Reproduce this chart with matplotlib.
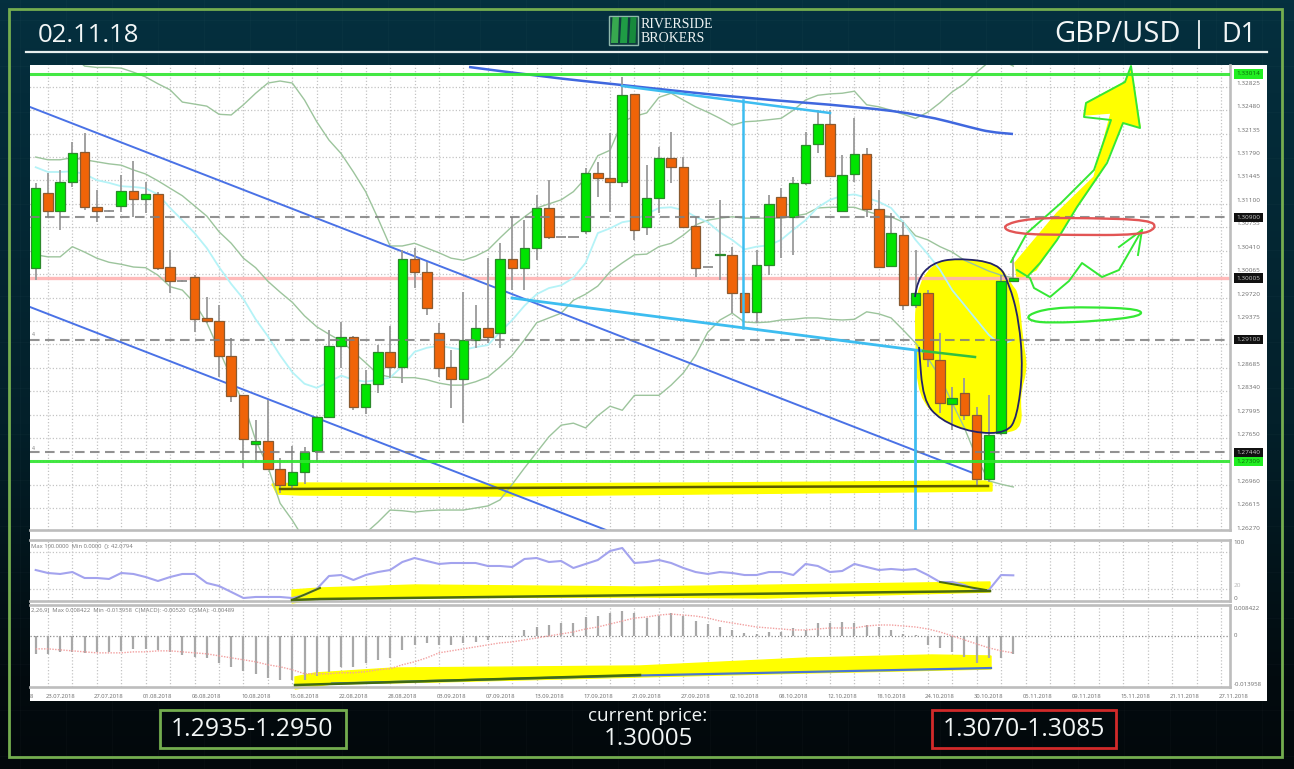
import numpy as np
import matplotlib
matplotlib.use("Agg")
import matplotlib.pyplot as plt
from matplotlib.colors import LinearSegmentedColormap
from matplotlib.patches import Polygon, PathPatch, Rectangle
from matplotlib.path import Path
from matplotlib.transforms import blended_transform_factory

plt.rcParams["font.family"] = ["Open Sans", "DejaVu Sans"]

# daily candles
opens = [1.30095,1.31200,1.30935,1.31362,1.31804,1.30994,1.30935,1.31009,1.31230,1.31112,1.31185,1.30110,1.29904,1.29963,1.29359,1.29315,1.28799,1.28225,1.27503,1.27547,1.27135,1.26899,1.27091,1.27400,1.27901,1.28946,1.29079,1.28048,1.28387,1.28858,1.28637,1.30228,1.30036,1.29138,1.28637,1.28460,1.29035,1.29211,1.29138,1.30228,1.30095,1.30390,1.30979,1.30552,1.30552,1.30640,1.31495,1.31421,1.31362,1.32658,1.30699,1.31126,1.31716,1.31583,1.30714,1.30110,1.30287,1.30287,1.29727,1.29447,1.30139,1.31141,1.30847,1.31347,1.31922,1.32216,1.30935,1.31480,1.31775,1.30964,1.30125,1.30581,1.29550,1.29727,1.28740,1.28092,1.28254,1.27930,1.26987,1.27665,1.29904]
highs = [1.31347,1.31495,1.31539,1.31951,1.32084,1.31244,1.30950,1.31465,1.31671,1.31362,1.31215,1.30361,1.29919,1.29992,1.29668,1.29550,1.29064,1.28225,1.27856,1.28151,1.27297,1.27473,1.27459,1.27916,1.29182,1.29300,1.29094,1.28593,1.28961,1.29241,1.30361,1.30390,1.30184,1.29285,1.28888,1.29742,1.29550,1.30243,1.30464,1.30847,1.30802,1.31171,1.31392,1.30552,1.30552,1.31568,1.31657,1.32084,1.32909,1.32658,1.31613,1.31878,1.32099,1.31730,1.30847,1.30110,1.31097,1.30405,1.29727,1.30361,1.31171,1.31274,1.31436,1.32099,1.32423,1.32423,1.31760,1.32305,1.31863,1.31244,1.30905,1.30773,1.30361,1.29771,1.29138,1.28342,1.28475,1.28048,1.28225,1.29992,1.30257]
lows = [1.29919,1.30847,1.30655,1.31289,1.30950,1.30773,1.30920,1.30920,1.30847,1.30905,1.30066,1.29727,1.29889,1.29152,1.29285,1.28490,1.28122,1.27149,1.27238,1.27120,1.26781,1.26825,1.26914,1.27238,1.27886,1.28622,1.28004,1.27945,1.28254,1.28475,1.28401,1.29801,1.29403,1.28490,1.28033,1.27812,1.28917,1.28991,1.28917,1.29771,1.29771,1.30213,1.30522,1.30552,1.30552,1.30596,1.31141,1.30920,1.31289,1.30508,1.30581,1.30905,1.31347,1.30699,1.29963,1.30110,1.29919,1.29432,1.29432,1.29285,1.29992,1.30243,1.30287,1.31318,1.31789,1.31451,1.30935,1.31362,1.30847,1.30095,1.30110,1.29477,1.29506,1.28637,1.27960,1.27709,1.27856,1.26899,1.26943,1.27635,1.29889]
closes = [1.31274,1.30935,1.31362,1.31789,1.30994,1.30935,1.30935,1.31230,1.31112,1.31185,1.30095,1.29904,1.29904,1.29344,1.29315,1.28799,1.28210,1.27576,1.27547,1.27135,1.26899,1.27091,1.27385,1.27901,1.28946,1.29079,1.28048,1.28387,1.28858,1.28637,1.30228,1.30036,1.29506,1.28622,1.28460,1.29035,1.29211,1.29079,1.30228,1.30095,1.30390,1.30979,1.30552,1.30552,1.30552,1.31495,1.31421,1.31362,1.32644,1.30655,1.31126,1.31716,1.31583,1.30699,1.30095,1.30110,1.30302,1.29727,1.29447,1.30139,1.31038,1.30847,1.31347,1.31907,1.32216,1.31451,1.31465,1.31775,1.30964,1.30110,1.30611,1.29550,1.29727,1.28755,1.28107,1.28181,1.27930,1.26987,1.27635,1.29904,1.29948]

# bollinger bands + the cyan average
bb_upper = [1.3323,1.3323,1.3323,1.3323,1.3307,1.3305,1.3305,1.3304,1.3298,1.3291,1.3281,1.3272,1.3254,1.3251,1.3248,1.3236,1.3235,1.3250,1.3267,1.3282,1.3285,1.3282,1.3257,1.3225,1.3198,1.3178,1.3151,1.3122,1.3083,1.3042,1.3042,1.3046,1.3039,1.3032,1.3024,1.3021,1.3027,1.3036,1.3054,1.3071,1.3085,1.3098,1.3104,1.3110,1.3122,1.3142,1.3175,1.3183,1.3225,1.3233,1.3238,1.3261,1.3267,1.3257,1.3247,1.3239,1.3230,1.3220,1.3225,1.3226,1.3228,1.3230,1.3242,1.3257,1.3264,1.3266,1.3267,1.3270,1.3250,1.3247,1.3242,1.3236,1.3230,1.3239,1.3253,1.3269,1.3281,1.3298,1.3313,1.3316,1.3307]
bb_mid = [1.3173,1.3169,1.3169,1.3172,1.3169,1.3166,1.3163,1.3161,1.3154,1.3148,1.3138,1.3127,1.3116,1.3101,1.3086,1.3063,1.3046,1.3024,1.3010,1.2990,1.2974,1.2959,1.2939,1.2923,1.2912,1.2902,1.2886,1.2870,1.2853,1.2849,1.2848,1.2848,1.2845,1.2840,1.2837,1.2837,1.2842,1.2849,1.2864,1.2881,1.2904,1.2929,1.2936,1.2943,1.2962,1.2971,1.2983,1.3004,1.3017,1.3029,1.3030,1.3041,1.3046,1.3058,1.3073,1.3080,1.3083,1.3085,1.3083,1.3083,1.3083,1.3083,1.3086,1.3089,1.3098,1.3099,1.3099,1.3099,1.3093,1.3088,1.3085,1.3077,1.3057,1.3051,1.3041,1.3033,1.3021,1.3013,1.3005,1.2999,1.2995]
bb_lower = [1.3029,1.3026,1.3026,1.3041,1.3033,1.3024,1.3018,1.3015,1.3011,1.3010,1.2999,1.2982,1.2977,1.2958,1.2929,1.2889,1.2848,1.2811,1.2756,1.2717,1.2663,1.2638,1.2609,1.2594,1.2587,1.2579,1.2587,1.2619,1.2635,1.2653,1.2652,1.2650,1.2652,1.2653,1.2653,1.2653,1.2656,1.2659,1.2668,1.2691,1.2715,1.2738,1.2761,1.2778,1.2781,1.2774,1.2792,1.2806,1.2800,1.2822,1.2822,1.2822,1.2837,1.2855,1.2881,1.2915,1.2933,1.2943,1.2930,1.2929,1.2930,1.2933,1.2934,1.2936,1.2936,1.2934,1.2933,1.2934,1.2945,1.2942,1.2936,1.2918,1.2899,1.2877,1.2849,1.2811,1.2774,1.2730,1.2696,1.2691,1.2687]
ma_cyan = [1.3158,1.3151,1.3151,1.3152,1.3148,1.3139,1.3135,1.3130,1.3129,1.3127,1.3118,1.3098,1.3080,1.3061,1.3039,1.3011,1.2986,1.2964,1.2934,1.2909,1.2881,1.2856,1.2839,1.2833,1.2842,1.2851,1.2845,1.2842,1.2845,1.2848,1.2865,1.2886,1.2892,1.2895,1.2892,1.2889,1.2893,1.2896,1.2915,1.2933,1.2954,1.2971,1.2980,1.2984,1.2995,1.3017,1.3061,1.3068,1.3077,1.3080,1.3089,1.3098,1.3099,1.3095,1.3085,1.3077,1.3062,1.3051,1.3037,1.3041,1.3043,1.3051,1.3066,1.3080,1.3099,1.3110,1.3116,1.3118,1.3113,1.3107,1.3098,1.3077,1.3051,1.3030,1.3007,1.2977,1.2955,1.2933,1.2911,1.2896,1.2904]

# the series above were read against the label centres, which sit a bit above their gridlines
LABEL_OFFSET = 0.00059
opens, highs, lows, closes = [np.array(a) + LABEL_OFFSET for a in (opens, highs, lows, closes)]
bb_upper, bb_mid, bb_lower, ma_cyan = [np.array(a) + LABEL_OFFSET for a in (bb_upper, bb_mid, bb_lower, ma_cyan)]

rsi = [50.8,45.9,44.3,47.5,37.7,37.7,36.1,45.9,44.3,39.3,32.8,39.3,44.3,44.3,29.5,24.6,14.8,4.9,6.6,6.6,6.6,4.9,9.8,19.7,41.0,42.6,34.4,42.6,47.5,50.8,63.9,70.5,65.6,60.7,62.3,62.3,62.3,57.4,57.4,55.7,68.9,70.5,63.9,65.6,54.1,60.7,67.2,82.0,86.9,62.3,63.9,67.2,62.3,54.1,47.5,44.3,47.5,45.9,42.6,42.6,47.5,47.5,42.6,60.7,57.4,47.5,49.2,60.7,55.7,50.8,52.5,50.8,52.5,42.6,31.1,31.1,26.2,18.0,18.0,42.6,42.08]
macd_hist = [-.0054,-.0054,-.0048,-.0048,-.0051,-.0048,-.0048,-.0045,-.0039,-.0039,-.0042,-.0048,-.0057,-.0063,-.0066,-.0081,-.0093,-.0105,-.0114,-.0126,-.0132,-.0132,-.0132,-.0120,-.0108,-.0093,-.0093,-.0081,-.0072,-.0066,-.0042,-.0027,-.0021,-.0027,-.0027,-.0021,-.0018,-.0012,-.0003,-.0003,.0018,.0027,.0033,.0039,.0039,.0057,.0060,.0069,.0075,.0069,.0054,.0060,.0069,.0060,.0045,.0036,.0027,.0018,.0009,.0006,.0012,.0012,.0024,.0018,.0039,.0039,.0042,.0039,.0033,.0027,.0018,.0006,.0003,-.0027,-.0036,-.0048,-.0063,-.0081,-.0066,-.0066,-.0054]
macd_signal = [-.0039,-.0039,-.0042,-.0045,-.0048,-.0051,-.0051,-.0051,-.0048,-.0048,-.0045,-.0045,-.0048,-.0051,-.0054,-.0060,-.0066,-.0072,-.0078,-.0087,-.0093,-.0102,-.0114,-.0114,-.0114,-.0111,-.0111,-.0108,-.0102,-.0099,-.0087,-.0078,-.0066,-.0051,-.0045,-.0039,-.0033,-.0027,-.0021,-.0018,-.0012,-.0006,0,.0006,.0012,.0021,.0027,.0036,.0045,.0054,.0057,.0063,.0066,.0063,.0060,.0054,.0045,.0039,.0033,.0027,.0024,.0021,.0018,.0018,.0021,.0024,.0024,.0024,.0030,.0033,.0033,.0030,.0027,.0021,.0012,0,-.0012,-.0024,-.0036,-.0045,-.0051]

price_ticks = [1.32825,1.32480,1.32135,1.31790,1.31445,1.31100,1.30755,1.30410,1.30065,1.29720,1.29375,1.29030,1.28685,1.28340,1.27995,1.27650,1.27305,1.26960,1.26615,1.26270]
green_levels = [1.33014, 1.27309]
dashed_levels = [1.30900, 1.29100, 1.27440]
red_level = 1.30005
date_labels = ["23.07.2018","27.07.2018","01.08.2018","06.08.2018","10.08.2018","16.08.2018","22.08.2018","28.08.2018","03.09.2018","07.09.2018","13.09.2018","17.09.2018","21.09.2018","27.09.2018","02.10.2018","08.10.2018","12.10.2018","18.10.2018","24.10.2018","30.10.2018","05.11.2018","09.11.2018","15.11.2018","21.11.2018","27.11.2018"]

W, H = 1294, 769
bars = np.arange(len(opens))
odd_bars = np.arange(1, 98, 2)


def smooth(pts, closed=False):
    pts = np.array(pts, dtype=float)
    if closed:
        pts = np.vstack([pts, pts[0], pts[1]])
    mids = (pts[:-1] + pts[1:]) / 2
    start = mids[0] if closed else pts[0]
    verts, codes = [start], [Path.MOVETO]
    for p, m in zip(pts[1:-1], mids[1:]):
        verts += [p, m]
        codes += [Path.CURVE3, Path.CURVE3]
    if not closed:
        verts.append(pts[-1])
        codes.append(Path.LINETO)
    return Path(verts, codes)


def box(top, bottom):
    return [30 / W, 1 - bottom / H, 1199.6 / W, (bottom - top) / H]


fig = plt.figure(figsize=(W / 100, H / 100), dpi=100)

# page in pixel coordinates: background, frame, header, footer
px = fig.add_axes([0, 0, 1, 1], zorder=0)
px.set_xlim(0, W)
px.set_ylim(H, 0)
px.axis("off")

bg = LinearSegmentedColormap.from_list("bg", [(0, "#04303f"), (0.12, "#042c3a"), (0.55, "#03202a"), (0.88, "#020b0f"), (1, "#03080b")])
px.imshow(np.linspace(0, 1, 256).reshape(-1, 1), cmap=bg, aspect="auto", extent=(0, W, H, 0), zorder=0)
for v in np.arange(20, W, 46):
    px.plot([v, v], [0, H], color="#ffffff", alpha=0.018, lw=0.8, zorder=0.5)
for v in np.arange(20, H, 46):
    px.plot([0, W], [v, v], color="#ffffff", alpha=0.018, lw=0.8, zorder=0.5)
px.set_xlim(0, W)
px.set_ylim(H, 0)

px.add_patch(Rectangle((8.5, 8.5), 1273.5, 748.5, fill=False, ec="#74ad4f", lw=2, zorder=1))
px.plot([26, 1267], [52, 52], color="#e8efef", lw=1.6, zorder=1)
px.add_patch(Rectangle((30, 65), 1237, 635.5, fc="white", ec="none", zorder=1))

title = dict(color="#f2f6f6", va="center", zorder=2)
px.text(38, 35, "02.11.18", ha="left", fontsize=18.5, **title)
px.text(1181, 35, "GBP/USD", ha="right", fontsize=21, **title)
px.plot([1199, 1199], [21, 48], color="#f2f6f6", lw=1.3, zorder=2)
px.text(1256, 35, "D1", ha="right", fontsize=19.5, **title)

# logo
px.add_patch(Rectangle((609, 15.5), 29, 29.5, fc="#0f3b3f", ec="#8fb8ac", lw=1, zorder=2))
for x0, w0, c in [(611, 8, "#37a84f"), (620, 8, "#1f9c45"), (629, 7.5, "#178a3c")]:
    px.add_patch(Polygon([(x0 + 1.5, 17), (x0 + w0, 17), (x0 + w0 - 1, 43), (x0, 43)], fc=c, ec="none", zorder=2.1))
px.text(641, 24, "RIVERSIDE", family="Liberation Serif", fontsize=10, color="#f0f4f4", va="center", zorder=2)
px.text(641, 38, "BROKERS", family="Liberation Serif", fontsize=10, color="#f0f4f4", va="center", zorder=2)

# footer boxes
px.add_patch(Rectangle((159.5, 709.5), 186, 38.5, fill=False, ec="#74ad4f", lw=2, zorder=2))
px.add_patch(Rectangle((932, 709.5), 184, 38.5, fill=False, ec="#d22a2a", lw=2, zorder=2))
foot = dict(color="#f2f6f6", ha="center", va="center", zorder=3)
px.text(252.5, 729.5, "1.2935-1.2950", fontsize=17.8, **foot)
px.text(1024, 729.5, "1.3070-1.3085", fontsize=17.8, **foot)
px.text(647.5, 716, "current price:", fontsize=13.7, **foot)
px.text(648, 739, "1.30005", fontsize=17.4, **foot)

# main panel
ax = fig.add_axes(box(65, 530), zorder=2, facecolor="none")
macd_ax = fig.add_axes(box(605, 687), zorder=2, facecolor="none", sharex=ax)
rsi_ax = fig.add_axes(box(540, 601), zorder=2, facecolor="none", sharex=ax)
ax.set_xlim(-0.466, 97.7)
ax.set_ylim(1.26295, 1.33145)
rsi_ax.set_ylim(0, 100)
macd_ax.set_ylim(-0.0154, 0.00933)

for a in (ax, rsi_ax, macd_ax):
    a.tick_params(length=0, labelbottom=False, labelleft=False)
    a.set_yticks([])
    a.set_xticks([])
    for s in a.spines.values():
        s.set_color("#bdbdbd")
        s.set_linewidth(1.9)
    a.spines["left"].set_visible(False)
    a.vlines(odd_bars, 0, 1, transform=a.get_xaxis_transform(), color="#c4c4c4", lw=0.9, linestyles=(0, (1, 1.6)), zorder=1)
ax.spines["top"].set_visible(False)

ax.hlines(price_ticks, -1, 98, color="#c4c4c4", lw=0.9, linestyles=(0, (1, 1.6)), zorder=1)
for lv in dashed_levels:
    ax.axhline(lv, color="#7f7f7f", lw=1.5, ls=(0, (4.6, 2.6)), alpha=0.85, zorder=5)
for lv in green_levels:
    ax.axhline(lv, color="#2fe62f", lw=2.2, alpha=0.9, zorder=5)
ax.axhline(red_level, color="#ffb3b3", lw=2.4, alpha=0.9, zorder=2)

# yellow marker strokes go under the candles
yellow = [
    [(272, 484), (300, 483), (500, 484), (700, 483), (985, 481), (992, 483), (992, 491), (800, 493), (500, 496), (300, 495), (277, 494)],
    [(1017, 277), (1015, 263), (1057, 213), (1094, 177), (1111, 113), (1084, 115), (1086, 103), (1125, 82), (1131, 68), (1140, 127), (1123, 122), (1102, 170), (1073, 213), (1036, 270), (1019, 279)],
]
for pts in yellow:
    ax.add_patch(Polygon(pts, fc="#ffff00", ec="#ffff00", lw=1, transform=px.transData, clip_on=False, zorder=1.5))
oval = [(915, 292), (932, 263), (957, 258), (998, 262), (1012, 285), (1019, 293), (1023, 340), (1028, 368), (1020, 395), (1023, 427), (1006, 434), (973, 432), (940, 420), (918, 397), (915, 347)]
ax.add_patch(PathPatch(smooth(oval, closed=True), fc="#ffff00", ec="none", transform=px.transData, clip_on=False, zorder=1.5))

ax.plot(bars, bb_upper, color="#9cc49c", lw=1, zorder=2)
ax.plot(bars, bb_mid, color="#9cc49c", lw=1, zorder=2)
ax.plot(bars, bb_lower, color="#9cc49c", lw=1, zorder=2)
ax.plot(bars, ma_cyan, color="#b5f3f7", lw=1.3, zorder=2)

# trend lines drawn on the chart by hand
blue = "#4a72e6"
ax.plot([30, 973], [107, 473], color=blue, lw=1.4, transform=px.transData, zorder=2.5)
ax.plot([30, 606], [307, 530], color=blue, lw=1.4, transform=px.transData, zorder=2.5)
ax.add_patch(PathPatch(smooth([(469, 67), (545, 77), (622, 85), (640, 87), (744, 98), (861, 107), (923, 115), (973, 128), (990, 132), (1013, 134)]), fill=False, ec="#3f67de", lw=1.8, transform=px.transData, zorder=2.6))

# candles
bull = closes > opens
doji = np.isclose(opens, closes, atol=1e-4)
ax.vlines(bars, lows, highs, color="#9a9a9a", lw=1.3, zorder=3)
ax.hlines(opens[doji], bars[doji] - 0.42, bars[doji] + 0.42, color="#8e8e8e", lw=1.3, zorder=3)
b = bars[~doji]
body_low = np.minimum(opens, closes)[~doji]
body_h = np.abs(closes - opens)[~doji]
colors = np.where(bull[~doji], "#00e400", "#f06408")
edges = np.where(bull[~doji], "#2b8a2b", "#8a5a30")
ax.bar(b, body_h, 0.78, bottom=body_low, color=colors, edgecolor=edges, linewidth=0.9, zorder=3.2)

# cyan and green strokes above the candles
cyan = "#3dbdf0"
ax.plot([622, 830], [86, 113], color=cyan, lw=1.8, transform=px.transData, zorder=6)
ax.plot([743, 743], [100, 328], color=cyan, lw=1.8, transform=px.transData, zorder=6)
ax.plot([512, 923], [298, 351], color=cyan, lw=2, transform=px.transData, zorder=6)
ax.plot([923, 975], [351, 357], color="#30c040", lw=1.8, transform=px.transData, zorder=6)
ax.plot([915, 915], [350, 530], color=cyan, lw=2, transform=px.transData, zorder=6)
ax.plot([280, 500, 700, 988], [489, 488, 487, 486], color="#5b5b00", lw=1.8, transform=px.transData, zorder=6)

oval_outline = [(915, 297), (917, 280), (932, 263), (957, 258), (998, 263), (1009, 283), (1019, 320), (1023, 370), (1017, 417), (1007, 433), (973, 433), (940, 420), (923, 400), (919, 347)]
ax.add_patch(PathPatch(smooth(oval_outline), fill=False, ec="#23236a", lw=1.3, transform=px.transData, zorder=6, clip_on=False))

green = "#34e834"
strokes = [
    [(1011, 262), (1027, 233), (1061, 203), (1094, 170), (1111, 120), (1084, 117), (1086, 103), (1125, 82), (1131, 66), (1140, 128), (1123, 123), (1107, 163), (1077, 207), (1057, 240), (1040, 263), (1027, 277)],
    [(1017, 270), (1030, 278), (1034, 288), (1050, 297), (1069, 281), (1082, 263), (1102, 277), (1119, 270), (1142, 230)],
    [(1119, 247), (1142, 230), (1138, 255)],
]
for pts in strokes:
    ax.plot(*zip(*pts), color=green, lw=1.4, transform=px.transData, zorder=6, clip_on=False)
ax.add_patch(PathPatch(smooth([(1027, 315), (1050, 308), (1090, 307), (1140, 309), (1142, 316), (1100, 321), (1050, 323), (1030, 321)], closed=True), fill=False, ec=green, lw=1.6, transform=px.transData, zorder=6))
ax.add_patch(PathPatch(smooth([(1000, 226), (1030, 218), (1090, 218), (1150, 220), (1157, 228), (1140, 235), (1070, 235), (1015, 234)], closed=True), fill=False, ec="#e25555", lw=1.7, transform=px.transData, zorder=6))

# price scale
scale_x = (1248.5 - 30) / 1199.6
scale = blended_transform_factory(ax.transAxes, ax.transData)
for p in price_ticks:
    ax.annotate("%.5f" % p, (scale_x, p), xycoords=scale, xytext=(0, 3.5), textcoords="offset pixels", ha="center", va="center", fontsize=4.6, color="#6b6b6b", annotation_clip=False, zorder=7)
for p, fc, tc in [(green_levels[0], "#22ee22", "#0a6a0a"), (green_levels[1], "#22ee22", "#0a6a0a"), (dashed_levels[0], "#111111", "#cccccc"), (dashed_levels[1], "#111111", "#cccccc"), (dashed_levels[2], "#111111", "#cccccc"), (red_level, "#111111", "#cccccc")]:
    ax.annotate("%.5f" % p, (scale_x, p), xycoords=scale, ha="center", va="center", fontsize=4.6, color=tc, annotation_clip=False, zorder=8, bbox=dict(boxstyle="square,pad=0.35", fc=fc, ec="none"))
for y in [213, 335, 448]:
    px.text(33, y, "4", fontsize=3.6, color="#777777", ha="center", va="center", zorder=3)

# rsi
rsi_ax.hlines([20, 80], -1, 98, color="#c4c4c4", lw=0.9, linestyles=(0, (1, 1.6)), zorder=1)
rsi_ax.plot(bars, rsi, color="#a3a3ee", lw=1.5, zorder=3)
rsi_scale = blended_transform_factory(rsi_ax.transAxes, rsi_ax.transData)
for v, txt, off, col in [(100, "100", -3, "#6b6b6b"), (20, "20", 3, "#b5b5b5"), (0, "0", 3, "#6b6b6b")]:
    rsi_ax.annotate(txt, (1.0035, v), xycoords=rsi_scale, xytext=(0, off), textcoords="offset pixels", ha="left", va="center", fontsize=4.6, color=col, annotation_clip=False)
rsi_ax.text(0.001, 0.9, "Max 100.0000  Min 0.0000  (): 42.0794", transform=rsi_ax.transAxes, fontsize=4.2, color="#777777", va="center")

# macd
macd_ax.axhline(0, color="#8a8a8a", lw=0.9, ls=(0, (1, 1.6)), zorder=1)
macd_ax.vlines(bars, 0, macd_hist, color="#a8a8a8", lw=1.6, zorder=3)
macd_ax.plot(bars, macd_signal, color="#f2a0a0", lw=1, ls=(0, (1, 1)), zorder=4)
macd_scale = blended_transform_factory(macd_ax.transAxes, macd_ax.transData)
for v, txt, xpos, off in [(0.008422, "0.008422", 1.0035, 0), (0, "0", 1.0035, 0), (-0.013958, "-0.013958", 1.0035, -2)]:
    macd_ax.annotate(txt, (xpos, v), xycoords=macd_scale, xytext=(0, off), textcoords="offset pixels", ha="left", va="center", fontsize=4.4, color="#6b6b6b", annotation_clip=False)
macd_ax.text(0.001, 0.93, "2,26,9)  Max 0.008422  Min -0.013958  C(MACD): -0.00520  C(SMA): -0.00489", transform=macd_ax.transAxes, fontsize=4.2, color="#777777", va="center")

# yellow in the lower panels
rsi_yellow = [(292, 590), (320, 588), (415, 585), (640, 587), (990, 582), (990, 592), (765, 598), (640, 597), (324, 598), (292, 603)]
macd_yellow = [(295, 677), (315, 673), (394, 668), (640, 666), (807, 658), (932, 655), (991, 656), (991, 669), (807, 673), (640, 677), (436, 682), (332, 684), (295, 689)]
rsi_ax.add_patch(Polygon(rsi_yellow, fc="#ffff00", ec="#ffff00", lw=1, transform=px.transData, clip_on=False, zorder=2))
macd_ax.add_patch(Polygon(macd_yellow, fc="#ffff00", ec="#ffff00", lw=1, transform=px.transData, clip_on=False, zorder=2))
rsi_ax.plot([292, 320, 990], [600, 599, 591], color="#4a6a10", lw=1.8, transform=px.transData, clip_on=False, zorder=5)
rsi_ax.plot([292, 320], [600, 588], color="#4a6a10", lw=1.4, transform=px.transData, clip_on=False, zorder=5)
rsi_ax.plot([940, 986], [582, 590], color="#4a6a10", lw=1.4, transform=px.transData, clip_on=False, zorder=5)
macd_ax.plot([295, 640], [685, 675], color="#3f6a10", lw=1.8, transform=px.transData, clip_on=False, zorder=5)
macd_ax.plot([332, 640, 991], [683.5, 675.5, 668], color="#4a76d0", lw=1.6, transform=px.transData, clip_on=False, zorder=4.5)

# date axis
for k, lab in enumerate(date_labels):
    macd_ax.annotate(lab, (1 + 4 * k + 1.0, 0), xycoords=macd_ax.get_xaxis_transform(), xytext=(0, -9), textcoords="offset pixels", ha="center", va="center", fontsize=4.2, color="#6b6b6b", annotation_clip=False)
px.text(31, 696, "8", fontsize=4.2, color="#6b6b6b", ha="center", va="center", zorder=3)

fig.savefig("out.png", dpi=100)
